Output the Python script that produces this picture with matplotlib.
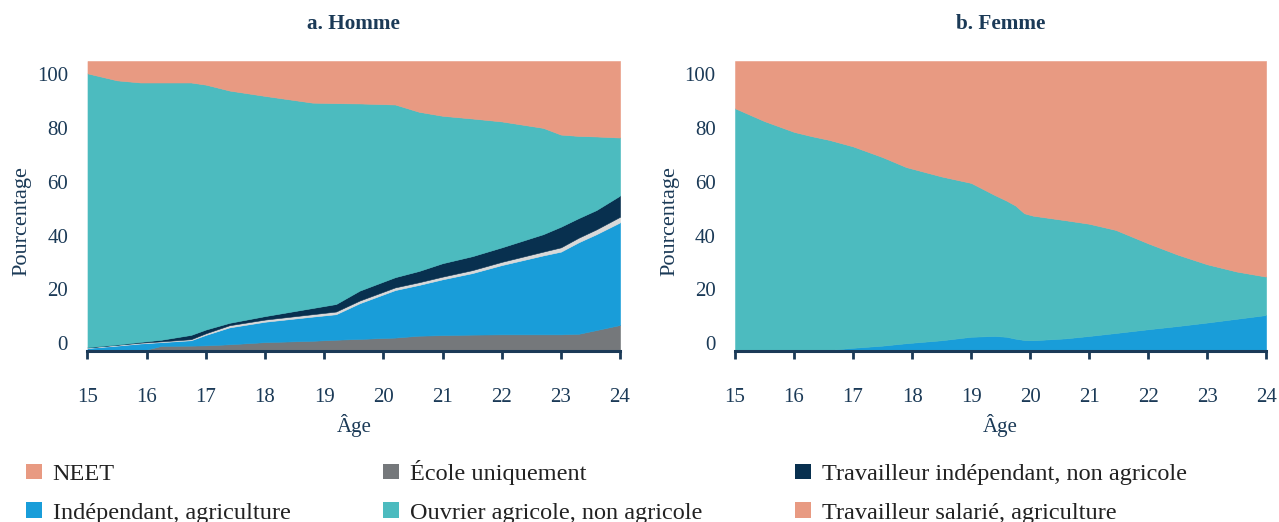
import matplotlib
matplotlib.use('Agg')

import numpy as np
import matplotlib.pyplot as plt
from matplotlib.patches import Patch


# ---- data (percent) ----------------------------------------------------------------
# panel a : Homme
ages_h = [15, 15.5, 15.9, 16.25, 16.75, 17.0, 17.4, 18.0, 18.8, 19.2, 19.6,
          20.2, 20.6, 21.0, 21.5, 22.0, 22.7, 23.0, 23.3, 23.6, 24.0]
ecole_h = [0, 0, 0, 1.9, 2.0, 2.1, 2.5, 3.3, 3.8, 4.2, 4.5,
           5.0, 5.7, 5.9, 6.1, 6.2, 6.2, 6.2, 6.4, 7.8, 9.7]
indep_agri_h = [1.1, 2.0, 2.8, 1.4, 2.0, 3.9, 6.3, 7.6, 9.0, 9.5, 13.3,
                17.7, 18.9, 20.8, 22.9, 25.8, 29.4, 30.8, 34.1, 35.7, 38.2]
autre_h = [0.2, 0.3, 0.3, 0.3, 0.4, 0.6, 0.8, 0.8, 0.9, 1.0, 1.0,
           1.0, 1.0, 1.0, 1.1, 1.2, 1.4, 1.6, 1.7, 1.8, 2.1]
indep_nonagri_h = [0.1, 0.1, 0.3, 0.6, 1.6, 1.4, 0.9, 1.3, 2.3, 2.8, 3.7,
                   3.8, 4.2, 5.0, 5.2, 5.4, 6.5, 7.7, 7.3, 7.2, 7.9]
ouvrier_h = [102.0, 98.4, 96.6, 95.8, 94.0, 91.2, 86.5, 82.0, 76.5, 74.8, 69.7,
             64.3, 59.3, 54.9, 51.3, 46.9, 39.6, 34.3, 30.6, 27.4, 21.6]
neet_h = [4.6, 7.2, 8.0, 8.0, 8.0, 8.8, 11.0, 13.0, 15.5, 15.7, 15.8,
          16.2, 18.9, 20.4, 21.4, 22.5, 24.9, 27.4, 27.9, 28.1, 28.5]

# panel b : Femme
ages_f = [15, 15.5, 16.0, 16.3, 16.6, 17.0, 17.5, 17.9, 18.5, 19.0, 19.4, 19.6,
          19.75, 19.9, 20.05, 20.6, 21.0, 21.45, 22.0, 22.5, 23.0, 23.5, 24.0]
indep_agri_f = [0, 0, 0, 0, 0.4, 1.2, 2.0, 2.9, 4.0, 5.3, 5.6, 5.3,
                4.6, 4.1, 4.0, 4.7, 5.6, 6.7, 8.1, 9.3, 10.6, 12.0, 13.4]
ouvrier_f = [90.4, 85.6, 81.6, 80.0, 78.2, 75.0, 70.2, 65.6, 61.0, 57.3, 52.5, 50.7,
             49.6, 47.2, 46.4, 44.0, 41.8, 38.4, 32.0, 26.6, 21.7, 17.6, 14.3]
neet_f = [17.6, 22.4, 26.4, 28.0, 29.4, 31.8, 35.8, 39.5, 43.0, 45.4, 49.9, 52.0,
          53.8, 56.7, 57.6, 59.3, 60.6, 62.9, 67.9, 72.1, 75.7, 78.4, 80.3]

x_ticks = list(range(15, 25))
y_ticks = [0, 20, 40, 60, 80, 100]

legend_labels = ['NEET', 'Indépendant, agriculture', 'École uniquement',
                 'Ouvrier agricole, non agricole', 'Travailleur indépendant, non agricole',
                 'Travailleur salarié, agriculture']

# ---- styling -----------------------------------------------------------------------
C_NEET = '#E89A82'
C_ECOLE = '#75787B'
C_INDEP_AGRI = '#199DD9'
C_AUTRE = '#D9D9D9'
C_INDEP_NONAGRI = '#08304F'
C_OUVRIER = '#4CBBBF'
TXT = '#1B3A57'
FLOOR = -3       # areas start at the bottom of the axis

plt.rcParams['font.family'] = ['Liberation Serif', 'DejaVu Serif']


def draw_panel(ax, ages, layers, title):
    base = np.full(len(ages), FLOOR, dtype=float)
    for vals, col in layers:
        top = base + np.array(vals, dtype=float)
        ax.fill_between(ages, base, top, facecolor=col, edgecolor=col, linewidth=0.4)
        base = top

    ax.set_xlim(15, 24)
    ax.set_ylim(-3, 105)
    ax.set_xticks(x_ticks)
    ax.set_yticks(y_ticks)
    ax.set_title(title, fontsize=15.3, fontweight='bold', color=TXT, pad=23)
    ax.set_xlabel('Âge', fontsize=15, color=TXT, labelpad=5)
    ax.set_ylabel('Pourcentage', fontsize=16, color=TXT)
    ax.yaxis.set_label_coords(-0.105, 0.448)

    for s in ['top', 'right', 'left']:
        ax.spines[s].set_visible(False)
    ax.spines['bottom'].set_color(TXT)
    ax.spines['bottom'].set_linewidth(2.2)
    ax.tick_params(axis='x', direction='out', length=6, width=2, color=TXT,
                   labelsize=15, labelcolor=TXT, pad=21)
    ax.tick_params(axis='y', length=0, labelsize=15, labelcolor=TXT, pad=14)


fig = plt.figure(figsize=(12.79, 5.22), dpi=100)
ax1 = fig.add_axes([0.0684, 0.3276, 0.4164, 0.5555])
ax2 = fig.add_axes([0.5747, 0.3276, 0.4152, 0.5555])

draw_panel(ax1, ages_h, [(ecole_h, C_ECOLE), (indep_agri_h, C_INDEP_AGRI), (autre_h, C_AUTRE),
                         (indep_nonagri_h, C_INDEP_NONAGRI), (ouvrier_h, C_OUVRIER),
                         (neet_h, C_NEET)], 'a. Homme')
draw_panel(ax2, ages_f, [(indep_agri_f, C_INDEP_AGRI), (ouvrier_f, C_OUVRIER),
                         (neet_f, C_NEET)], 'b. Femme')

# legend, 3 columns x 2 rows
handle_cols = [C_NEET, C_INDEP_AGRI, C_ECOLE, C_OUVRIER, C_INDEP_NONAGRI, C_NEET]
handles = [Patch(facecolor=c, edgecolor='none') for c in handle_cols]
fig.legend(handles, legend_labels, ncol=3, loc='lower left', bbox_to_anchor=(0.003, -0.045),
           frameon=False, fontsize=17.5, handlelength=0.66, handleheight=0.58,
           handletextpad=0.45, columnspacing=3.8, labelspacing=0.72, labelcolor='#222222')

fig.savefig('out.png', dpi=100)
